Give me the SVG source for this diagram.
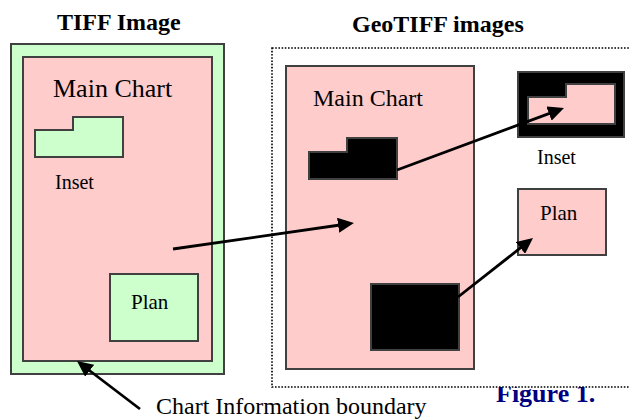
<svg xmlns="http://www.w3.org/2000/svg" width="629" height="419" viewBox="0 0 629 419">
<style>
text{font-family:"Liberation Serif","Times New Roman",serif;fill:#000}
.b{font-weight:bold}
.box{stroke:#404040;stroke-width:2}
.pink{fill:#ffcccc}
.green{fill:#ccffcc}
.blk{fill:#000}
.conn{stroke:#000;stroke-width:2.8;fill:none;marker-end:url(#ah)}
</style>
<defs>
<marker id="ah" markerUnits="userSpaceOnUse" markerWidth="16" markerHeight="15" refX="2" refY="7.5" orient="auto" viewBox="0 0 16 15">
<path d="M0,0 L16,7.5 L0,15 z" fill="#000"/>
</marker>
</defs>
<rect width="629" height="419" fill="#fff"/>
<text class="b" x="496" y="402" font-size="26" style="fill:#000080">Figure 1.</text>
<g id="geotiff-frame">
<rect x="272" y="48" width="380" height="339" fill="#fff" stroke="#000" stroke-width="1.6" stroke-dasharray="1.6 1.6"/>
</g>
<g id="tiff-title"><text class="b" x="57" y="29.5" font-size="24">TIFF Image</text></g>
<g id="geotiff-title"><text class="b" x="352" y="32" font-size="24">GeoTIFF images</text></g>
<g id="tiff-image">
<rect class="box green" x="11" y="44" width="213" height="330"/>
<rect class="box pink" x="23" y="57" width="189" height="304"/>
<text x="53" y="97" font-size="26">Main Chart</text>
</g>
<g id="tiff-inset">
<polygon class="box green" points="35,130 73,130 73,117 123,117 123,157 35,157"/>
<text x="55" y="189" font-size="20">Inset</text>
</g>
<g id="tiff-plan">
<rect class="box green" x="110" y="274" width="88" height="67"/>
<text x="131" y="309" font-size="21">Plan</text>
</g>
<g id="geo-main">
<rect class="box pink" x="286" y="66" width="188" height="303"/>
<text x="313" y="106" font-size="24">Main Chart</text>
<polygon class="box blk" points="309,152 347,152 347,138 397,138 397,179 309,179"/>
<rect class="box blk" x="371" y="284" width="88" height="66"/>
</g>
<g id="geo-inset">
<rect class="box blk" x="518" y="72" width="106" height="65"/>
<polygon class="box pink" points="528,97 566,97 566,84 615,84 615,124 528,124"/>
<text x="537" y="164" font-size="20">Inset</text>
</g>
<g id="geo-plan">
<rect class="box pink" x="518" y="189" width="88" height="66"/>
<text x="540" y="220" font-size="21">Plan</text>
</g>
<g id="boundary-label"><text x="156" y="414" font-size="24">Chart Information boundary</text></g>
<g id="connectors">
<line class="conn" x1="173" y1="249" x2="340.1" y2="225"/>
<line class="conn" x1="397" y1="170" x2="550.9" y2="112.9"/>
<line class="conn" x1="458" y1="297" x2="522" y2="246.7"/>
<line class="conn" x1="140" y1="409" x2="88.1" y2="369.5"/>
</g>
</svg>
